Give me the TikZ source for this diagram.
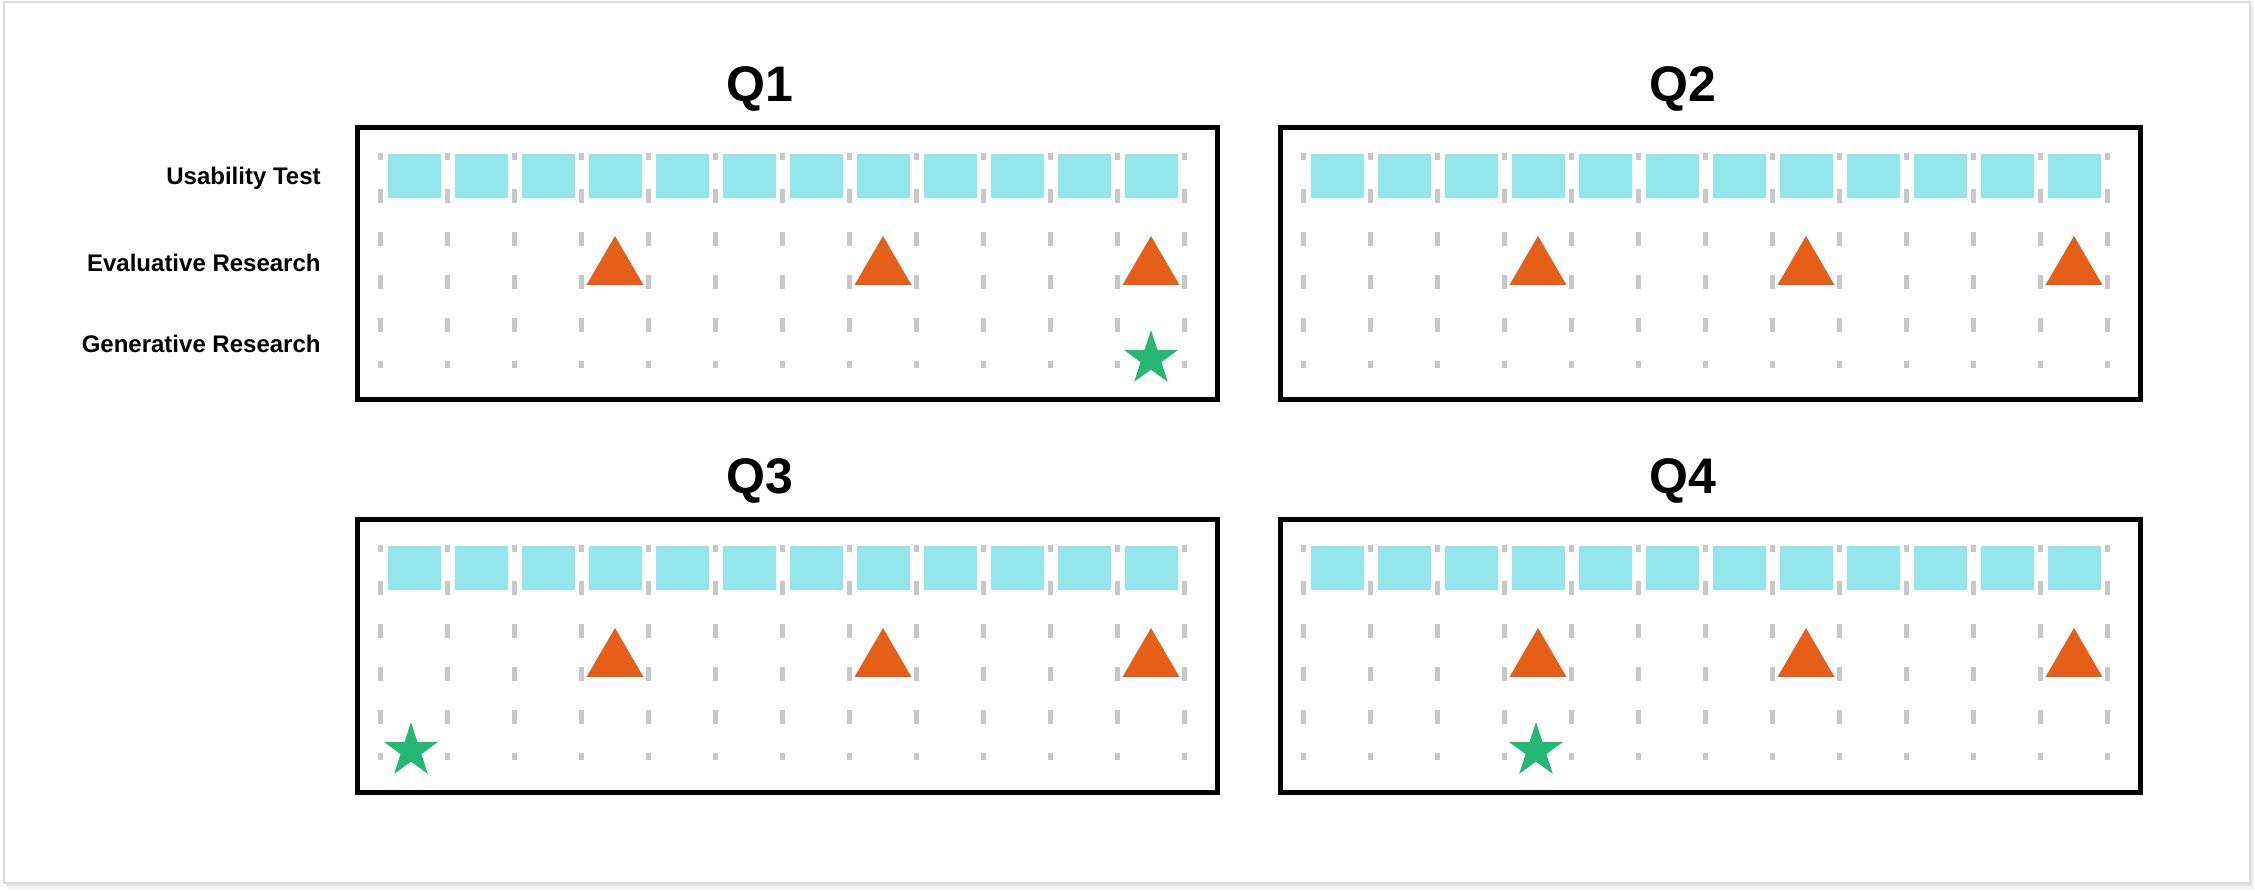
\documentclass[tikz,border=0pt]{standalone}
\usepackage{fontspec}
\setmainfont{Liberation Sans}
\usetikzlibrary{positioning}

\definecolor{usecyan}{HTML}{93E6EC}
\definecolor{evalorange}{HTML}{E65F19}
\definecolor{gengreen}{HTML}{25B774}
\definecolor{tickgray}{HTML}{C8C8C8}
\definecolor{framegray}{HTML}{DCDCDC}

\begin{document}
\begin{tikzpicture}[x=0.5pt, y=-0.5pt,
    quarterbox/.style={draw=black, line width=2.5pt},
    gridline/.style={draw=tickgray, line width=2.5pt, dash pattern=on 7pt off 14.5pt, dash phase=3.5pt},
    usebox/.style={fill=usecyan},
    evalmark/.style={fill=evalorange},
    genmark/.style={fill=gengreen},
    quartertitle/.style={font=\bfseries\fontsize{25}{30}\selectfont, anchor=base, inner sep=0pt},
    rowlabel/.style={font=\bfseries\fontsize{12}{14}\selectfont, anchor=base east, inner sep=0pt}]
    \useasboundingbox (0,0) rectangle (2255,892);

    % card with soft shadow
    \fill[black!5] (8,7) rectangle (2254,889);
    \fill[black!10] (6,5) rectangle (2252,886);
    \filldraw[fill=white, draw=framegray, line width=0.6pt] (4,2) rectangle (2250,883);

    % row labels
    \node[rowlabel] (usab) at (321,185) {Usability Test};
    \node[rowlabel] (evalr) at (321,272) {Evaluative Research};
    \node[rowlabel] (genr) at (321,353) {Generative Research};

    % one panel per quarter
    \foreach \qx/\qy/\qname in {0/0/Q1, 923/0/Q2, 0/392/Q3, 923/392/Q4} {
      \begin{scope}[shift={(\qx,\qy)}]
        \node[quartertitle] (title\qname) at (760,102) {\qname};
        \draw[quarterbox] (357.5,127.5) rectangle (1217.5,400);
        \foreach \k in {0,...,12}
          \draw[gridline] (380.5+67*\k,153) -- (380.5+67*\k,368);
        \foreach \k in {0,...,11}
          \fill[usebox] (388+67*\k,154) rectangle ++(53,44);
        \foreach \c in {3,7,11}
          \fill[evalmark] (414+67*\c,236) -- ++(28.5,49) -- ++(-57,0) -- cycle;
      \end{scope}
    }

    % generative research stars
    \foreach \sx/\sy in {1151/358.7, 411/750.7, 1536/750.7} {
      \fill[genmark] (\sx,\sy-28.5)
        \foreach \a/\r in {36/11, 72/28.5, 108/11, 144/28.5, 180/11, 216/28.5, 252/11, 288/28.5, 324/11} {
          -- ({\sx+\r*sin(\a)},{\sy-\r*cos(\a)})
        } -- cycle;
    }
\end{tikzpicture}
\end{document}
